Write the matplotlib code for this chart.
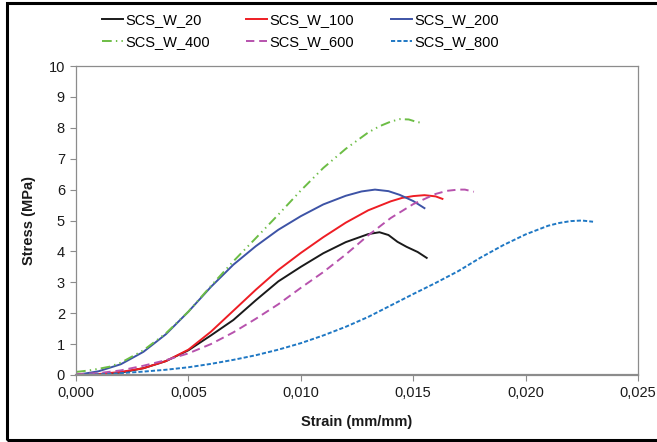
import matplotlib
matplotlib.use("Agg")
import matplotlib.pyplot as plt
from matplotlib.patches import Rectangle

plt.rcParams['font.family'] = ['Liberation Sans', 'DejaVu Sans']
plt.rcParams['lines.scale_dashes'] = False

# Stress-strain curves (strain in mm/mm, stress in MPa)
labels = ["SCS_W_20", "SCS_W_100", "SCS_W_200", "SCS_W_400", "SCS_W_600", "SCS_W_800"]

strain_20 = [0, 0.001, 0.002, 0.003, 0.004, 0.005, 0.006, 0.0066, 0.007, 0.008, 0.009,
             0.010, 0.011, 0.012, 0.013, 0.0135, 0.0139, 0.0143, 0.0147, 0.0152, 0.0156]
stress_20 = [0, 0.02, 0.08, 0.22, 0.45, 0.80, 1.28, 1.58, 1.78, 2.42, 3.03,
             3.50, 3.94, 4.30, 4.56, 4.62, 4.53, 4.31, 4.15, 3.98, 3.79]

strain_100 = [0, 0.001, 0.002, 0.003, 0.004, 0.005, 0.006, 0.007, 0.008, 0.009,
              0.010, 0.011, 0.012, 0.013, 0.014, 0.0145, 0.015, 0.0155, 0.016, 0.0163]
stress_100 = [0, 0.03, 0.10, 0.22, 0.45, 0.82, 1.40, 2.08, 2.76, 3.40,
              3.95, 4.46, 4.93, 5.33, 5.62, 5.73, 5.79, 5.82, 5.78, 5.70]

strain_200 = [0, 0.001, 0.002, 0.003, 0.004, 0.005, 0.006, 0.007, 0.008, 0.009,
              0.010, 0.011, 0.012, 0.0127, 0.0133, 0.0139, 0.0144, 0.015, 0.0155]
stress_200 = [0, 0.12, 0.35, 0.75, 1.32, 2.05, 2.85, 3.57, 4.17, 4.70,
              5.14, 5.52, 5.80, 5.94, 6.00, 5.95, 5.83, 5.63, 5.40]

strain_400 = [0, 0.0005, 0.001, 0.0015, 0.002, 0.003, 0.004, 0.005, 0.006, 0.007, 0.008,
              0.009, 0.010, 0.011, 0.012, 0.013, 0.0135, 0.014, 0.0144, 0.0148, 0.0152, 0.0154]
stress_400 = [0.10, 0.14, 0.20, 0.27, 0.40, 0.80, 1.35, 2.05, 2.88, 3.68, 4.43,
              5.19, 5.97, 6.70, 7.32, 7.85, 8.05, 8.20, 8.28, 8.27, 8.18, 8.17]

strain_600 = [0, 0.001, 0.002, 0.003, 0.004, 0.005, 0.006, 0.007, 0.008, 0.009,
              0.010, 0.011, 0.012, 0.013, 0.014, 0.015, 0.016, 0.0165, 0.017, 0.0173, 0.0177]
stress_600 = [0.03, 0.06, 0.15, 0.30, 0.48, 0.70, 1.00, 1.38, 1.82, 2.29,
              2.82, 3.33, 3.90, 4.52, 5.08, 5.53, 5.86, 5.96, 6.00, 6.00, 5.93]

strain_800 = [0, 0.001, 0.002, 0.003, 0.004, 0.005, 0.006, 0.007, 0.008, 0.009,
              0.010, 0.011, 0.012, 0.013, 0.014, 0.015, 0.016, 0.017, 0.018, 0.019,
              0.020, 0.021, 0.0215, 0.022, 0.0225, 0.023]
stress_800 = [0, 0.02, 0.06, 0.11, 0.17, 0.25, 0.36, 0.49, 0.64, 0.82,
              1.03, 1.28, 1.56, 1.88, 2.25, 2.62, 2.98, 3.36, 3.80, 4.20,
              4.55, 4.83, 4.92, 4.98, 5.00, 4.96]

x_ticks = [0, 0.005, 0.010, 0.015, 0.020, 0.025]
x_tick_labels = ["0,000", "0,005", "0,010", "0,015", "0,020", "0,025"]
y_ticks = list(range(0, 11))

fig = plt.figure(figsize=(6.57, 4.42), dpi=100)
ax = fig.add_axes([76 / 657, 1 - 375 / 442, (638 - 76) / 657, (375 - 66) / 442])

lw = 1.4
lines = []
lines += ax.plot(strain_20, stress_20, color="#1a1a1a", lw=lw, label=labels[0])
lines += ax.plot(strain_100, stress_100, color="#ee1d24", lw=lw, label=labels[1])
lines += ax.plot(strain_200, stress_200, color="#3d53a6", lw=lw, label=labels[2])
lines += ax.plot(strain_400, stress_400, color="#6cbd45", lw=lw, label=labels[3],
                 dashes=(7, 3, 1, 3, 1, 3))
lines += ax.plot(strain_600, stress_600, color="#b752ad", lw=lw, label=labels[4],
                 dashes=(6, 3.5))
lines += ax.plot(strain_800, stress_800, color="#1f78c4", lw=lw, label=labels[5],
                 dashes=(3, 1.5))

ax.set_xlim(0, 0.025)
ax.set_ylim(0, 10)
ax.set_xticks(x_ticks)
ax.set_xticklabels(x_tick_labels)
ax.set_yticks(y_ticks)

for side in ("top", "right", "left"):
    ax.spines[side].set_color("#8c8c8c")
    ax.spines[side].set_linewidth(0.9)
ax.spines["bottom"].set_color("#8c8c8c")
ax.spines["bottom"].set_linewidth(1.6)

ax.tick_params(axis="both", direction="out", length=4, width=0.8, color="#8c8c8c",
               labelsize=10.5, labelcolor="#1a1a1a", pad=4)

ax.set_xlabel("Strain (mm/mm)", fontsize=10.5, fontweight="bold", color="#1a1a1a", labelpad=11)
ax.set_ylabel("Stress (MPa)", fontsize=10.5, fontweight="bold", color="#1a1a1a", labelpad=9)

# legend filled row by row: three entries per row
order = [0, 3, 1, 4, 2, 5]
fig.legend([lines[i] for i in order], [labels[i] for i in order],
           loc="upper center", bbox_to_anchor=(0.457, 1.0), ncol=3, frameon=False,
           fontsize=10.5, handlelength=1.45, handletextpad=0.15,
           columnspacing=2.5, labelspacing=0.55)

# Black frame around the figure (open on the right)
fig.add_artist(Rectangle((7 / 657, 2 / 442), 1.2, 1 - 4.5 / 442,
                         transform=fig.transFigure, fill=False,
                         edgecolor="black", linewidth=2.2, clip_on=False))

fig.savefig("out.png", dpi=100)
